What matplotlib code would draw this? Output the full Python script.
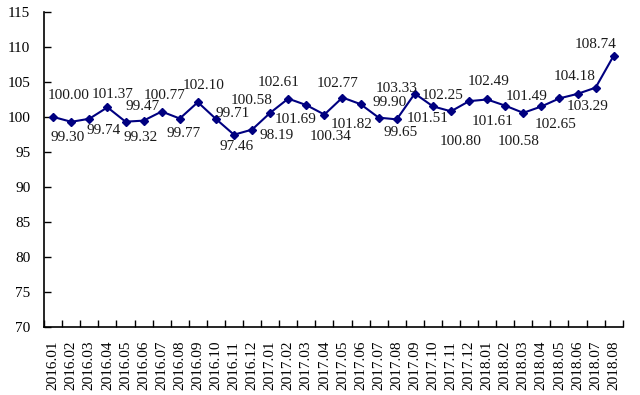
import numpy as np
import matplotlib
matplotlib.use('Agg')
import matplotlib.pyplot as plt

months = ['2016.01', '2016.02', '2016.03', '2016.04', '2016.05', '2016.06',
          '2016.07', '2016.08', '2016.09', '2016.10', '2016.11', '2016.12',
          '2017.01', '2017.02', '2017.03', '2017.04', '2017.05', '2017.06',
          '2017.07', '2017.08', '2017.09', '2017.10', '2017.11', '2017.12',
          '2018.01', '2018.02', '2018.03', '2018.04', '2018.05', '2018.06',
          '2018.07', '2018.08']
index_vals = [100.00, 99.30, 99.74, 101.37, 99.32, 99.47, 100.77, 99.77,
              102.10, 99.71, 97.46, 98.19, 100.58, 102.61, 101.69, 100.34,
              102.77, 101.82, 99.90, 99.65, 103.33, 101.51, 100.80, 102.25,
              102.49, 101.61, 100.58, 101.49, 102.65, 103.29, 104.18, 108.74]
y_ticks = [70, 75, 80, 85, 90, 95, 100, 105, 110, 115]

# label offsets in pixels (x right, y up), hand placed like the original
lab_dx = [15, -4, 14, 5, 15, -1, 3, 4, 6, 17, 3, 25, -19, -10, -11, 6,
          -5, -9, 11, 4, -18, -5, 10, -26, 1, -13, -5, -15, -4, 10, -21, -18]
lab_dy = [21, -16, -12, 13, -16, 14, 16, -15, 17, 5, -12, -6, 12, 16, -14, -22,
          14, -20, 15, -13, 5, -12, -30, 6, 18, -16, -29, 10, -26, -13, 11, 11]

plt.rcParams['font.family'] = ['Liberation Serif', 'DejaVu Serif']

fig = plt.figure(figsize=(6.4, 3.95), dpi=100)
ax = fig.add_axes([0.069, 0.172, 0.904, 0.798])

x = np.arange(len(months))
ax.plot(x, index_vals, color='#000080', linewidth=1.5, marker='D', markersize=4)

for i, v in enumerate(index_vals):
    ax.annotate('%.2f' % v, (x[i], v), xytext=(lab_dx[i], lab_dy[i]),
                textcoords='offset pixels', ha='center', va='center',
                fontsize=11, color='#1a1a1a')

ax.set_xlim(-0.5, len(months) - 0.5)
ax.set_ylim(70, 115)
ax.set_yticks(y_ticks)
ax.set_xticks(x)
ax.set_xticklabels(months, rotation=90, fontsize=11)
ax.set_xticks(np.arange(len(months) + 1) - 0.5, minor=True)
ax.tick_params(axis='x', which='major', length=0, pad=10)
ax.tick_params(axis='x', which='minor', direction='in', length=5, width=1)
ax.tick_params(axis='y', direction='in', length=5, width=1, labelsize=11, pad=10)

for s in ['top', 'right']:
    ax.spines[s].set_visible(False)
for s in ['left', 'bottom']:
    ax.spines[s].set_linewidth(1.2)

fig.savefig('out.png', dpi=100)
